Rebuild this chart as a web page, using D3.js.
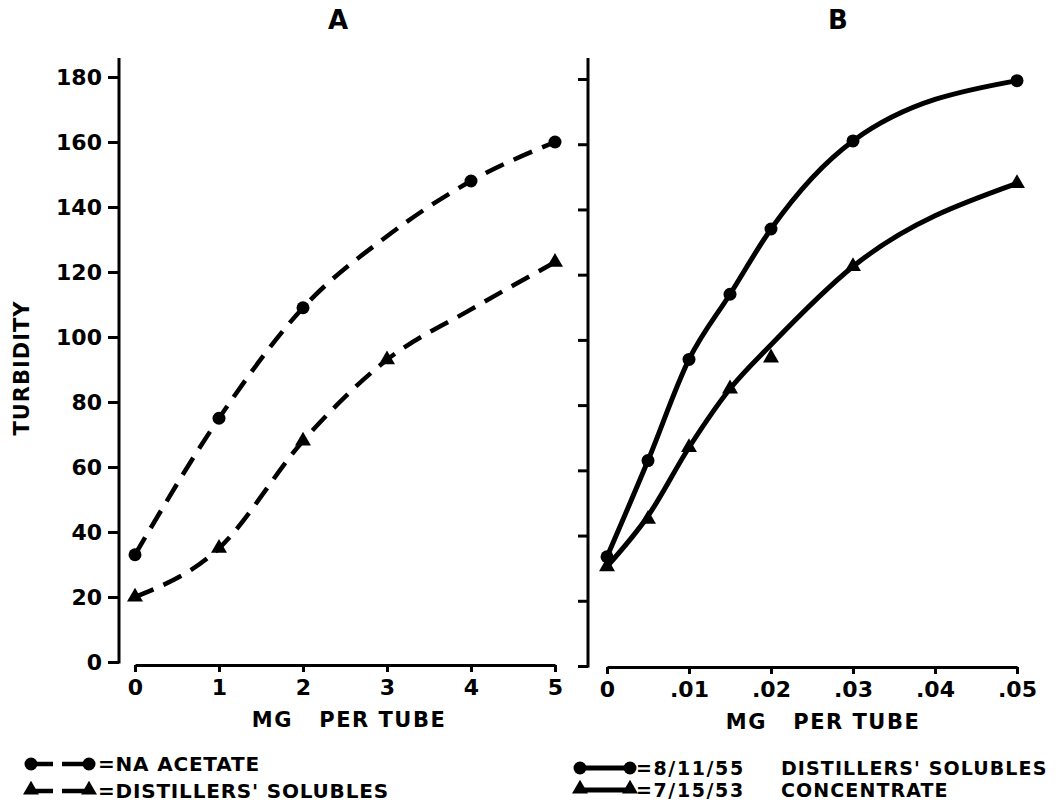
<!DOCTYPE html>
<html>
<head>
<meta charset="utf-8">
<script src="https://cdn.jsdelivr.net/npm/d3@7"></script>
<style>
  html, body { margin: 0; padding: 0; background: #fff; }
  svg { display: block; }
  text { font-family: "DejaVu Sans", sans-serif; font-weight: bold; fill: #000; }
</style>
</head>
<body>
<svg id="chart" width="1064" height="803"></svg>
<script>
// values
const yTicks = [0, 20, 40, 60, 80, 100, 120, 140, 160, 180];
const xTicksA = [0, 1, 2, 3, 4, 5];
const xTicksB = [0, 0.01, 0.02, 0.03, 0.04, 0.05];
const xLabelsB = ["0", ".01", ".02", ".03", ".04", ".05"];

// panel A: marker points and the hand drawn curve through them
const acetateX = [0, 1, 2, 4, 5];
const acetateY = [33, 75, 109, 148, 160];
const acetateCurveX = [0, 1, 2, 3, 4, 5];
const acetateCurveY = [33, 75, 109, 131, 148, 160];

const solublesX = [0, 1, 2, 3, 5];
const solublesY = [20, 35, 68, 93, 123];
const solublesCurveX = [0, 1, 2, 3, 4, 5];
const solublesCurveY = [20, 35, 68, 93, 108.5, 123];

// panel B
const mgB = [0, 0.005, 0.01, 0.015, 0.02, 0.03, 0.05];
const lot55 = [33.5, 63, 94, 114, 134, 161, 179.5];
const lot53 = [30.5, 45, 67, 85, 94.5, 122.5, 148];
const lot53Curve = [30.5, 46, 67, 85, 98.5, 122.5, 148];

const legendA = ["=NA ACETATE", "=DISTILLERS' SOLUBLES"];
const legendB = ["=8/11/55", "=7/15/53"];
const legendBNote = ["DISTILLERS' SOLUBLES", "CONCENTRATE"];

const svg = d3.select("#chart");

const xA = d3.scaleLinear().domain([0, 5]).range([135, 555]);
const yA = d3.scaleLinear().domain([0, 180]).range([662, 77]);
const xB = d3.scaleLinear().domain([0, 0.05]).range([607, 1017]);
const yB = d3.scaleLinear().domain([0, 180]).range([666, 79]);
const axisXA = 119, axisXB = 588;

function styleAxis(g, size) {
  g.select(".domain").attr("stroke", "#000").attr("stroke-width", 3);
  g.selectAll(".tick line").attr("stroke", "#000").attr("stroke-width", 3);
  g.selectAll(".tick text")
    .style("font-family", '"DejaVu Sans", sans-serif')
    .style("font-weight", "bold")
    .style("font-size", size + "px")
    .attr("fill", "#000");
}

// y axes
const gyA = svg.append("g").attr("transform", `translate(${axisXA},0)`)
  .call(d3.axisLeft(yA).tickValues(yTicks).tickSize(11).tickSizeOuter(0).tickPadding(6));
gyA.select(".domain").remove();
styleAxis(gyA, 22);
svg.append("line").attr("x1", axisXA).attr("x2", axisXA)
  .attr("y1", yA.range()[1] - 19).attr("y2", yA(0) + 1.5)
  .attr("stroke", "#000").attr("stroke-width", 3);

const gyB = svg.append("g").attr("transform", `translate(${axisXB},0)`)
  .call(d3.axisLeft(yB).tickValues(yTicks).tickSize(10).tickSizeOuter(0).tickFormat(""));
gyB.select(".domain").remove();
styleAxis(gyB, 22);
svg.append("line").attr("x1", axisXB).attr("x2", axisXB)
  .attr("y1", yB.range()[1] - 21).attr("y2", yB(0) + 1.5)
  .attr("stroke", "#000").attr("stroke-width", 3);

// x axes
const gxA = svg.append("g").attr("transform", "translate(0,665)")
  .call(d3.axisBottom(xA).tickValues(xTicksA).tickSize(7).tickSizeOuter(0).tickPadding(7).tickFormat(d3.format("d")));
styleAxis(gxA, 22);

const gxB = svg.append("g").attr("transform", "translate(0,667)")
  .call(d3.axisBottom(xB).tickValues(xTicksB).tickSize(7).tickSizeOuter(0).tickPadding(7)
    .tickFormat((d, i) => xLabelsB[i]));
styleAxis(gxB, 22);

// titles and axis labels
svg.append("text").attr("x", 338).attr("y", 29).attr("text-anchor", "middle")
  .style("font-size", "26px").text("A");
svg.append("text").attr("x", 838).attr("y", 29).attr("text-anchor", "middle")
  .style("font-size", "26px").text("B");
svg.append("text").attr("transform", "translate(29,368) rotate(-90)")
  .attr("text-anchor", "middle").style("font-size", "21px").style("letter-spacing", "1px")
  .text("TURBIDITY");
svg.append("text").attr("x", 349).attr("y", 727).attr("text-anchor", "middle")
  .attr("xml:space", "preserve").style("font-size", "21px").style("letter-spacing", "1.5px")
  .text("MG   PER TUBE");
svg.append("text").attr("x", 823).attr("y", 729).attr("text-anchor", "middle")
  .attr("xml:space", "preserve").style("font-size", "21px").style("letter-spacing", "1.5px")
  .text("MG   PER TUBE");

// lines
const zip = (xs, ys) => xs.map((x, i) => [x, ys[i]]);
function drawLine(xs, ys, x, y, dashed) {
  svg.append("path")
    .datum(zip(xs, ys))
    .attr("fill", "none")
    .attr("stroke", "#000")
    .attr("stroke-width", dashed ? 4.5 : 5)
    .attr("stroke-dasharray", dashed ? "20,11" : null)
    .attr("d", d3.line().x(d => x(d[0])).y(d => y(d[1])).curve(d3.curveMonotoneX));
}
const triangle = d3.symbol().type(d3.symbolTriangle).size(110);
function drawCircles(xs, ys, x, y) {
  svg.append("g").selectAll("circle").data(zip(xs, ys)).join("circle")
    .attr("cx", d => x(d[0])).attr("cy", d => y(d[1])).attr("r", 6.5).attr("fill", "#000");
}
function drawTriangles(xs, ys, x, y) {
  svg.append("g").selectAll("path").data(zip(xs, ys)).join("path")
    .attr("d", triangle)
    .attr("transform", d => `translate(${x(d[0])},${y(d[1])})`)
    .attr("fill", "#000");
}

drawLine(acetateCurveX, acetateCurveY, xA, yA, true);
drawCircles(acetateX, acetateY, xA, yA);
drawLine(solublesCurveX, solublesCurveY, xA, yA, true);
drawTriangles(solublesX, solublesY, xA, yA);

drawLine(mgB, lot55, xB, yB, false);
drawCircles(mgB, lot55, xB, yB);
drawLine(mgB, lot53Curve, xB, yB, false);
drawTriangles(mgB, lot53, xB, yB);

// legend A
const legA = svg.append("g");
legendA.forEach((label, i) => {
  const cy = 764 + i * 27;
  legA.append("line").attr("x1", 31).attr("x2", 89).attr("y1", cy).attr("y2", cy)
    .attr("stroke", "#000").attr("stroke-width", 4.5).attr("stroke-dasharray", "22,9,30");
  [31, 89].forEach(cx => {
    if (i === 0) legA.append("circle").attr("cx", cx).attr("cy", cy).attr("r", 6.5).attr("fill", "#000");
    else legA.append("path").attr("d", triangle).attr("transform", `translate(${cx},${cy - 1})`).attr("fill", "#000");
  });
  legA.append("text").attr("x", 98).attr("y", cy + 7)
    .style("font-size", "20px").style("letter-spacing", "0.8px").text(label);
});

// legend B
const legB = svg.append("g");
legendB.forEach((label, i) => {
  const cy = 768 + i * 22;
  legB.append("line").attr("x1", 580).attr("x2", 630).attr("y1", cy).attr("y2", cy)
    .attr("stroke", "#000").attr("stroke-width", 5);
  [580, 630].forEach(cx => {
    if (i === 0) legB.append("circle").attr("cx", cx).attr("cy", cy).attr("r", 6.5).attr("fill", "#000");
    else legB.append("path").attr("d", triangle).attr("transform", `translate(${cx},${cy - 1})`).attr("fill", "#000");
  });
  legB.append("text").attr("x", 636).attr("y", cy + 6.5)
    .style("font-size", "19px").style("letter-spacing", "1.6px").text(label);
  legB.append("text").attr("x", 781).attr("y", cy + 6.5)
    .style("font-size", "19px").style("letter-spacing", "1.1px").text(legendBNote[i]);
});
</script>
</body>
</html>
